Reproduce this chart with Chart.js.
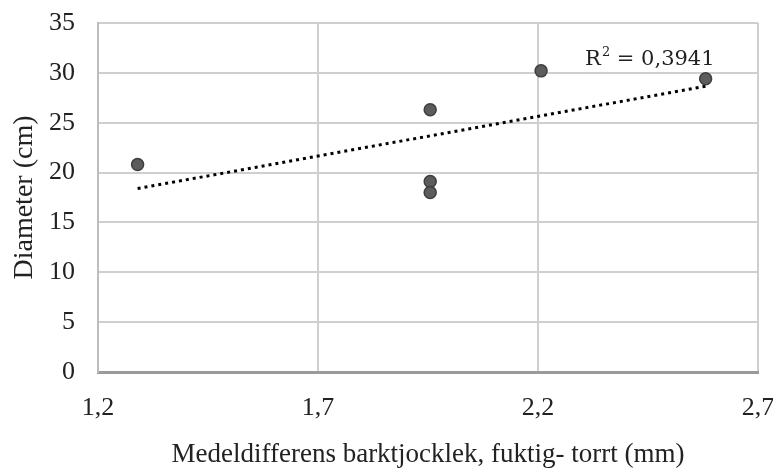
<!DOCTYPE html>
<html>
<head>
<meta charset="utf-8">
<script src="https://cdn.jsdelivr.net/npm/chart.js@4"></script>
<style>
  html, body { margin: 0; padding: 0; background: #fff; }
  #wrap { width: 773px; height: 468px; }
</style>
</head>
<body>
<div id="wrap"><canvas id="myChart" width="773" height="468"></canvas></div>
<script>
// measured values
var diffX = [1.29, 1.955, 1.955, 1.955, 2.207, 2.581];
var diameterY = [20.8, 26.3, 19.1, 18.0, 30.2, 29.4];
var xTicks = [1.2, 1.7, 2.2, 2.7];
var yTicks = [0, 5, 10, 15, 20, 25, 30, 35];
var r2Value = '0,3941';

var points = diffX.map(function (x, i) { return {x: x, y: diameterY[i]}; });

// linear trend line (least squares) from the points
var n = diffX.length, mx = 0, my = 0;
for (var i = 0; i < n; i++) { mx += diffX[i] / n; my += diameterY[i] / n; }
var sxy = 0, sxx = 0;
for (var i = 0; i < n; i++) { sxy += (diffX[i] - mx) * (diameterY[i] - my); sxx += (diffX[i] - mx) * (diffX[i] - mx); }
var slope = sxy / sxx, icpt = my - slope * mx;
var xMin = Math.min.apply(null, diffX), xMax = Math.max.apply(null, diffX);
var trend = [{x: xMin, y: icpt + slope * xMin}, {x: xMax, y: icpt + slope * xMax}];

var serif = "'Liberation Serif', 'Times New Roman', serif";

// R² label near the end of the trend line
var r2Plugin = {
  id: 'r2',
  afterDatasetsDraw: function (chart) {
    var c = chart.ctx, xs = chart.scales.x, ys = chart.scales.y;
    var x = xs.getPixelForValue(2.307), y = ys.getPixelForValue(31.3);
    c.save();
    c.fillStyle = '#222';
    c.textAlign = 'left';
    c.textBaseline = 'middle';
    c.font = "21px 'DejaVu Serif', serif";
    c.fillText('R', x, y);
    x += c.measureText('R').width + 1;
    c.font = "13px 'DejaVu Serif', serif";
    c.fillText('2', x, y - 7);
    x += c.measureText('2').width;
    c.font = "21px 'DejaVu Serif', serif";
    c.fillText(' = ' + r2Value, x, y);
    c.restore();
  }
};

var ctx = document.getElementById('myChart').getContext('2d');
var myChart = new Chart(ctx, {
  type: 'scatter',
  data: {
    datasets: [{
        data: trend,
        type: 'line',
        borderColor: '#000',
        borderWidth: 3,
        borderDash: [3, 4],
        pointRadius: 0,
        fill: false,
        order: 2
      }, {
        data: points,
        backgroundColor: '#5c5c5c',
        borderColor: '#3f3f3f',
        borderWidth: 1.5,
        pointRadius: 6,
        order: 1
      }]
  },
  plugins: [r2Plugin],
  options: {
    responsive: false,
    animation: false,
    events: [],
    layout: { padding: { top: 23, right: 15, left: 0, bottom: 0 } },
    plugins: { legend: { display: false }, tooltip: { enabled: false } },
    scales: {
      x: {
        type: 'linear',
        min: 1.2, max: 2.7,
        afterBuildTicks: function (s) { s.ticks = xTicks.map(function (v) { return {value: v}; }); },
        afterFit: function (s) { s.height = 96; s.paddingLeft = 0; s.paddingRight = 0; },
        grid: { color: '#cfcfcf', lineWidth: 2, drawTicks: false },
        border: { color: '#9a9a9a', width: 3 },
        ticks: {
          padding: 21,
          color: '#222',
          font: { family: serif, size: 26 },
          maxRotation: 0,
          callback: function (v) { return v.toFixed(1).replace('.', ','); }
        },
        title: {
          display: true,
          text: 'Medeldifferens barktjocklek, fuktig- torrt (mm)',
          color: '#222',
          font: { family: serif, size: 27 },
          padding: { top: 16, bottom: -3 }
        }
      },
      y: {
        min: 0, max: 35,
        afterBuildTicks: function (s) { s.ticks = yTicks.map(function (v) { return {value: v}; }); },
        afterFit: function (s) { s.width = 98; s.paddingTop = 0; s.paddingBottom = 0; },
        grid: { color: '#cfcfcf', lineWidth: 2, drawTicks: false },
        border: { color: '#bdbdbd', width: 2 },
        ticks: {
          padding: 23,
          color: '#222',
          font: { family: serif, size: 26 }
        },
        title: {
          display: true,
          text: 'Diameter (cm)',
          color: '#222',
          font: { family: serif, size: 28 },
          padding: { top: 8, bottom: 0 }
        }
      }
    }
  }
});
</script>
</body>
</html>
